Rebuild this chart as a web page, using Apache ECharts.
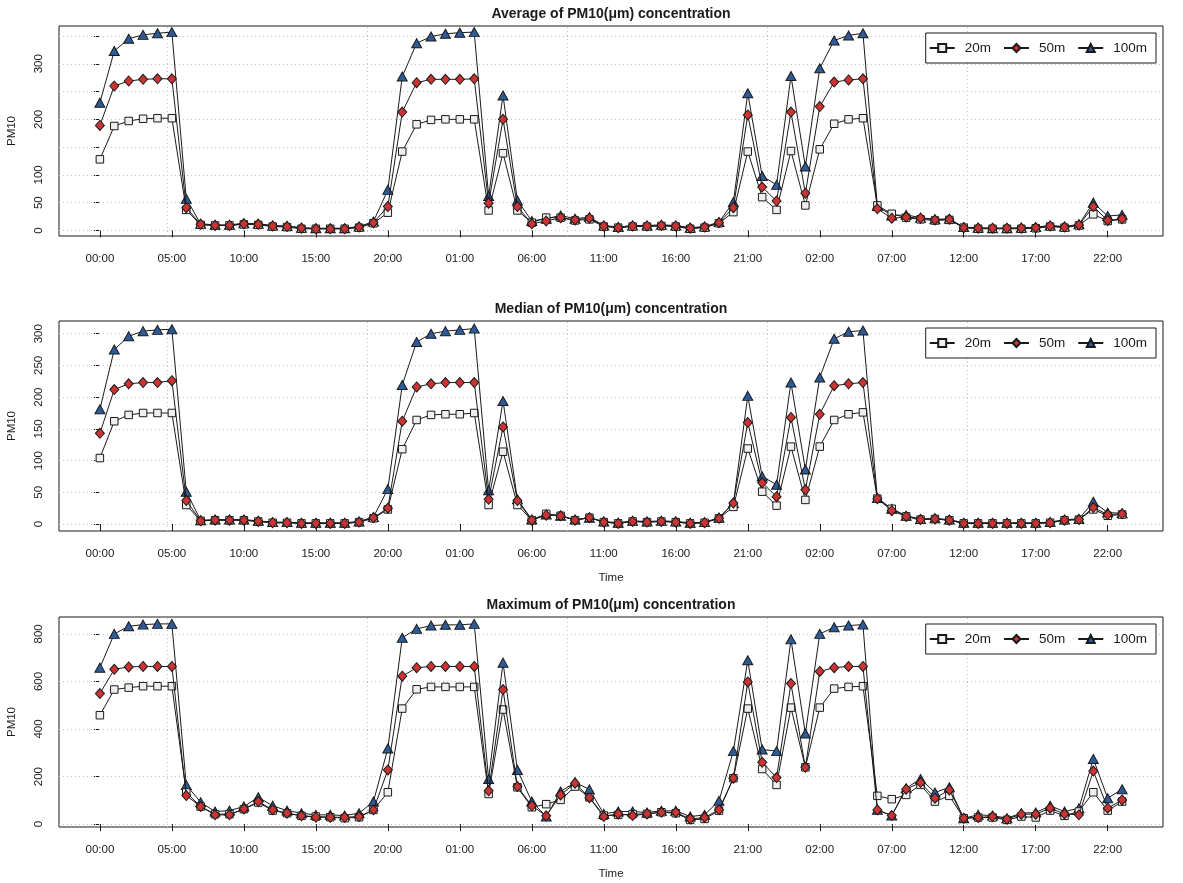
<!DOCTYPE html>
<html><head><meta charset="utf-8">
<script src="https://cdn.jsdelivr.net/npm/echarts@6/dist/echarts.min.js"></script>
<style>html,body{margin:0;padding:0;background:#fff}#c{width:1183px;height:883px}</style>
</head><body><div id="c"></div>
<script>
// ---------- data ----------
const heights = ['20m', '50m', '100m'];
const timeTicks = [0, 5, 10, 15, 20, 25, 30, 35, 40, 45, 50, 55, 60, 65, 70];
const timeLabels = ['00:00','05:00','10:00','15:00','20:00','01:00','06:00','11:00','16:00','21:00','02:00','07:00','12:00','17:00','22:00'];

const avg20  = [128,188,197,201,202,202,37,10,9,9,11,10,7,6,3,3,3,3,5,13,32,142,191,199,200,200,200,36,139,36,14,23,23,18,20,7,5,7,7,8,7,3,5,13,33,142,60,37,143,45,146,192,200,202,45,30,23,20,18,19,5,3,3,3,3,4,7,5,9,29,17,20];
const avg50  = [189,260,269,272,273,273,41,11,9,9,12,11,8,7,4,3,3,3,6,14,43,213,266,272,272,272,273,49,200,43,12,17,23,19,22,8,5,8,8,9,8,4,6,14,41,208,78,53,213,67,223,267,271,273,39,22,24,22,19,20,5,4,4,4,4,5,8,6,10,43,18,21];
const avg100 = [230,323,345,352,355,357,57,12,10,10,13,12,9,8,5,4,4,4,7,16,73,277,337,349,354,356,357,62,243,54,17,21,27,21,24,9,6,9,9,10,9,5,7,15,51,247,98,82,278,115,292,342,351,355,44,27,28,23,20,21,6,5,4,4,5,6,9,7,11,50,26,28];

const med20  = [104,162,172,175,175,175,30,5,6,6,6,4,2,2,1,1,1,1,3,9,23,118,164,172,173,173,175,30,114,30,6,16,13,6,10,3,1,4,3,4,3,1,2,9,27,119,51,29,122,38,122,164,173,176,40,24,12,7,8,6,1,1,1,1,1,1,2,6,7,23,13,15];
const med50  = [143,212,221,223,223,226,37,5,6,6,6,4,2,2,1,1,1,1,3,10,25,162,216,221,223,223,223,39,153,37,6,14,13,6,10,3,1,4,3,4,3,1,2,9,33,160,65,43,168,54,173,218,221,223,40,21,12,7,8,6,1,1,1,1,1,1,2,6,7,26,15,16];
const med100 = [181,275,296,304,306,307,51,6,7,7,7,5,3,3,2,2,2,2,4,11,55,219,287,300,304,306,308,53,194,39,7,15,13,7,10,4,2,5,4,5,4,2,3,10,33,202,75,62,223,86,231,292,303,305,41,24,13,8,9,7,2,2,2,2,2,2,3,7,8,35,18,17];

const max20  = [458,566,574,580,580,580,133,74,42,42,63,91,57,46,35,32,29,25,29,60,134,486,567,577,577,577,577,127,482,155,71,84,102,158,113,36,39,42,43,50,46,18,22,57,193,486,232,165,490,239,490,570,577,580,119,105,123,165,95,119,25,28,28,18,32,28,57,35,53,134,57,95];
const max50  = [549,651,661,663,663,663,120,74,39,39,64,95,60,46,35,29,29,29,32,60,228,622,658,663,663,663,663,140,566,158,77,35,123,172,111,32,43,36,43,50,49,22,28,60,193,598,260,196,591,239,642,658,663,663,60,36,147,175,109,144,25,28,32,21,42,42,67,43,39,223,67,102];
const max100 = [658,800,832,839,842,842,165,92,53,57,74,113,77,57,46,39,39,36,46,95,318,784,821,835,838,838,842,190,679,228,95,32,137,176,146,43,53,53,49,56,56,32,39,98,307,689,314,307,777,381,800,828,835,839,60,36,151,190,133,155,25,39,36,25,46,49,77,53,67,274,109,147];

const panelTitles = ['Average of PM10(\u03bcm) concentration', 'Median of PM10(\u03bcm) concentration', 'Maximum of PM10(\u03bcm) concentration'];
const panelSeries = [[avg20, avg50, avg100], [med20, med50, med100], [max20, max50, max100]];
const yTickValues = [[0,50,100,150,200,250,300,350], [0,50,100,150,200,250,300], [0,200,400,600,800]];
const yLabelValues = [[0,50,100,200,300], [0,50,100,150,200,250,300], [0,200,400,600,800]];

// ---------- layout / style ----------
const FONT = 'Arial, "Liberation Sans", sans-serif';
const INK = '#1a1a1a';
const gridTops = [26, 321, 617];
const gridH = 210;
const yRanges = [[-10, 368], [-11, 320], [-12, 871]];
const xRange = [-2.84, 73.84];
const vGridPos = [4.65, 18.55, 32.45, 46.35, 60.25];
const showTimeName = [false, true, true];

const styleOf = {
  '20m':  {symbol: 'rect', symbolSize: 7.5, fill: '#efefef', z: 3},
  '50m':  {symbol: 'diamond', symbolSize: [9, 10], fill: '#cc3333', z: 4},
  '100m': {symbol: 'triangle', symbolSize: [10, 9], fill: '#2d5a99', z: 2}
};

const grids = [], xAxes = [], yAxes = [], series = [], titles = [], legends = [];
panelSeries.forEach((vals, k) => {
  grids.push({left: 59, right: 20, top: gridTops[k], height: gridH, show: true,
    borderColor: INK, borderWidth: 1, backgroundColor: 'transparent', containLabel: false, outerBoundsMode: 'none'});
  xAxes.push({gridIndex: k, type: 'value', min: xRange[0], max: xRange[1],
    axisLine: {show: false},
    axisTick: {show: true, length: 7, customValues: timeTicks, lineStyle: {color: INK, width: 1}},
    axisLabel: {customValues: timeTicks, margin: 17, fontSize: 11.5, color: INK, fontFamily: FONT,
      formatter: v => timeLabels[timeTicks.indexOf(Math.round(v))] || ''},
    splitLine: {show: false},
    name: showTimeName[k] ? 'Time' : '', nameLocation: 'middle', nameGap: 41,
    nameTextStyle: {fontSize: 11.5, color: INK, fontFamily: FONT}});
  yAxes.push({gridIndex: k, type: 'value', min: yRanges[k][0], max: yRanges[k][1],
    axisLine: {show: false},
    axisTick: {show: true, length: 6, customValues: yTickValues[k], lineStyle: {color: INK, width: 1}},
    axisLabel: {customValues: yLabelValues[k], rotate: 90, margin: 14, fontSize: 11.5, color: INK, fontFamily: FONT},
    splitLine: {show: false},
    name: 'PM10', nameLocation: 'middle', nameRotate: 90, nameGap: 41,
    nameTextStyle: {fontSize: 11.5, color: INK, fontFamily: FONT}});
  titles.push({text: panelTitles[k], left: 611, textAlign: 'center', top: gridTops[k] - 19, padding: 0,
    textStyle: {fontSize: 14, fontWeight: 'bold', color: INK, fontFamily: FONT}});
  legends.push({data: heights, right: 27, top: gridTops[k] + 7, orient: 'horizontal', selectedMode: false,
    backgroundColor: '#fff', borderColor: INK, borderWidth: 1, padding: [8, 9, 8, 3],
    itemGap: 12, itemWidth: 25, itemHeight: 10,
    textStyle: {fontSize: 13.5, color: INK, fontFamily: FONT, padding: [0, 0, 0, 5]}});
  const hGrid = yTickValues[k];
  heights.forEach((h, j) => {
    const st = styleOf[h];
    const s = {name: h, type: 'line', xAxisIndex: k, yAxisIndex: k,
      data: vals[j].map((v, i) => [i, v]),
      symbol: st.symbol, symbolSize: st.symbolSize, showAllSymbol: true, z: st.z,
      lineStyle: {color: INK, width: 1},
      itemStyle: {color: st.fill, borderColor: INK, borderWidth: 1},
      emphasis: {disabled: true}, animation: false};
    if (h === '100m') {
      s.markLine = {silent: true, symbol: ['none', 'none'], animation: false, z: 1, label: {show: false},
        emphasis: {disabled: true},
        lineStyle: {color: '#c2c2c2', type: [1, 3], width: 1},
        data: vGridPos.map(x => ({xAxis: x})).concat(hGrid.map(y => ({yAxis: y})))};
    }
    series.push(s);
  });
});

const chart = echarts.init(document.getElementById('c'), null, {renderer: 'canvas'});
chart.setOption({
  animation: false, backgroundColor: '#fff',
  title: titles, legend: legends, grid: grids, xAxis: xAxes, yAxis: yAxes, series: series
});
</script></body></html>
